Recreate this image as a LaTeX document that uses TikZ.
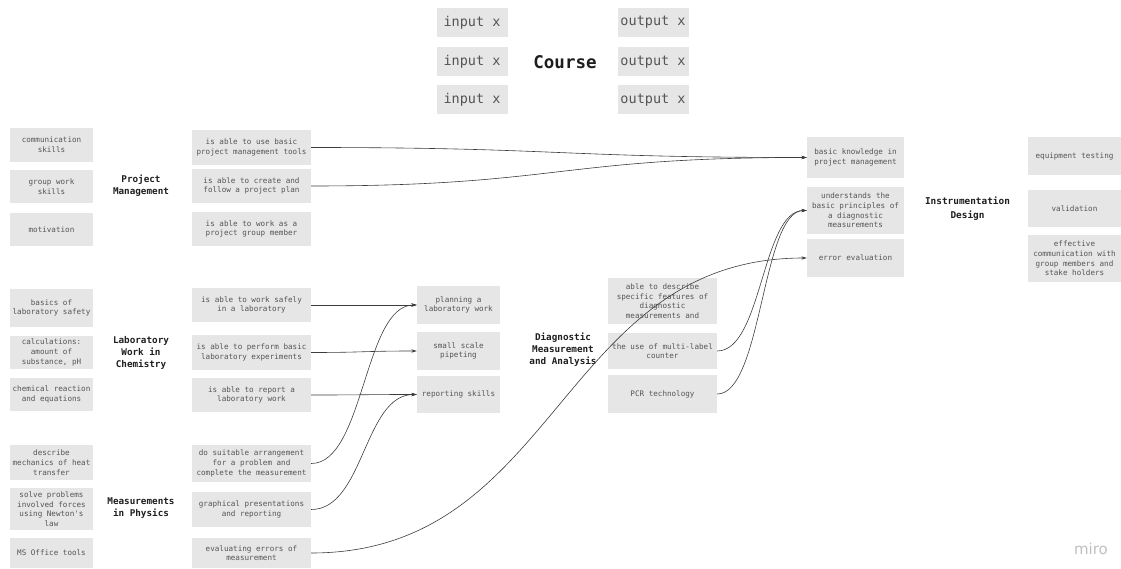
\documentclass[tikz,border=0pt]{standalone}
\usepackage{fontspec}
\setmonofont{DejaVu Sans Mono}
\newfontfamily\mirofont{DejaVu Sans}
\usetikzlibrary{arrows.meta}
\definecolor{boxfill}{HTML}{E6E6E6}
\definecolor{boxtext}{HTML}{555555}
\definecolor{labtext}{HTML}{1E1E1E}
\definecolor{linecol}{HTML}{3C3C3C}
\begin{document}
\begin{tikzpicture}[x=1pt,y=-1pt,
  bx/.style 2 args={fill=boxfill, draw=none, inner sep=0pt, align=center, text=boxtext,
    font=\ttfamily\fontsize{7.6}{9.7}\selectfont, minimum width=#1pt, minimum height=#2pt},
  iobox/.style={fill=boxfill, draw=none, inner sep=0pt, text=boxtext,
    font=\ttfamily\fontsize{13.5}{16}\selectfont, minimum width=71pt, minimum height=29pt},
  lab/.style={align=center, text=labtext, inner sep=0pt,
    font=\ttfamily\bfseries\fontsize{9.3}{12}\selectfont},
  conn/.style={draw=linecol, line width=0.6pt, -{Stealth[length=5.5pt,width=3.4pt]}}
]
\useasboundingbox (0,0) rectangle (1121,569);

% top
\node[iobox] (i1) at (472,22.5) {input x};
\node[iobox] (i2) at (472,62) {input x};
\node[iobox] (i3) at (472,100) {input x};
\node[iobox] (o1) at (653,22.5) {output x};
\node[iobox] (o2) at (653,62) {output x};
\node[iobox] (o3) at (653,100) {output x};
\node[lab, font=\ttfamily\bfseries\fontsize{17.5}{20}\selectfont] (course) at (565,62) {Course};

% left column
\node[bx={83}{34}] (c1) at (51.5,145) {communication\\skills};
\node[bx={83}{33}] (c2) at (51.5,186.5) {group work\\skills};
\node[bx={83}{33}] (c3) at (51.5,229.5) {motivation};
\node[bx={83}{38}] (c4) at (51.5,308) {basics of\\laboratory safety};
\node[bx={83}{33}] (c5) at (51.5,352.5) {calculations:\\amount of\\substance, pH};
\node[bx={83}{33}] (c6) at (51.5,394.5) {chemical reaction\\and equations};
\node[bx={83}{35}] (c7) at (51.5,462.5) {describe\\mechanics of heat\\transfer};
\node[bx={83}{42}] (c8) at (51.5,509) {solve problems\\involved forces\\using Newton's\\law};
\node[bx={83}{30}] (c9) at (51.5,553) {MS Office tools};

% section labels
\node[lab] (pm) at (141,186) {Project\\Management};
\node[lab] (lwc) at (141,353) {Laboratory\\Work in\\Chemistry};
\node[lab] (mip) at (141,508) {Measurements\\in Physics};
\node[lab] (dma) at (563,350) {Diagnostic\\Measurement\\and Analysis};
\node[lab, font=\ttfamily\bfseries\fontsize{9.4}{14}\selectfont] (ind) at (967.5,208.5) {Instrumentation\\Design};

% middle column
\node[bx={119}{35}] (m1) at (251.5,147.5) {is able to use basic\\project management tools};
\node[bx={119}{34}] (m2) at (251.5,186) {is able to create and\\follow a project plan};
\node[bx={119}{34}] (m3) at (251.5,229) {is able to work as a\\project group member};
\node[bx={119}{34}] (m4) at (251.5,305) {is able to work safely\\in a laboratory};
\node[bx={119}{35}] (m5) at (251.5,352.5) {is able to perform basic\\laboratory experiments};
\node[bx={119}{34}] (m6) at (251.5,395) {is able to report a\\laboratory work};
\node[bx={119}{37}] (m7) at (251.5,463.5) {do suitable arrangement\\for a problem and\\complete the measurement};
\node[bx={119}{35}] (m8) at (251.5,509.5) {graphical presentations\\and reporting};
\node[bx={119}{30}] (m9) at (251.5,553) {evaluating errors of\\measurement};

% planning column
\node[bx={83}{38}] (p1) at (458.5,305) {planning a\\laboratory work};
\node[bx={83}{38}] (p2) at (458.5,351) {small scale\\pipeting};
\node[bx={83}{37}] (p3) at (458.5,394.5) {reporting skills};

% diagnostic column
\node[bx={109}{46}] (d1) at (662.5,301) {able to describe\\specific features of\\diagnostic\\measurements and};
\node[bx={109}{36}] (d2) at (662.5,351) {the use of multi-label\\counter};
\node[bx={109}{38}] (d3) at (662.5,394) {PCR technology};

% instrumentation left
\node[bx={97}{41}] (n1) at (855.5,157.5) {basic knowledge in\\project management};
\node[bx={97}{47}] (n2) at (855.5,210.5) {understands the\\basic principles of\\a diagnostic\\measurements};
\node[bx={97}{38}] (n3) at (855.5,258) {error evaluation};

% right column
\node[bx={93}{38}] (r1) at (1074.5,156) {equipment testing};
\node[bx={93}{37}] (r2) at (1074.5,208.5) {validation};
\node[bx={93}{47}] (r3) at (1074.5,258.5) {effective\\communication with\\group members and\\stake holders};

% connectors
\draw[conn] (m1.east) .. controls +(248,0) and +(-248,0) .. (n1.west);
\draw[conn] (m2.east) .. controls +(248,0) and +(-248,0) .. (n1.west);
\draw[conn] (m4.east) -- (p1.west);
\draw[conn] (m5.east) .. controls +(53,0) and +(-53,0) .. (p2.west);
\draw[conn] (m6.east) .. controls +(53,0) and +(-53,0) .. (p3.west);
\draw[conn] (m7.east) .. controls +(53,0) and +(-53,0) .. (p1.west);
\draw[conn] (m8.east) .. controls +(53,0) and +(-53,0) .. (p3.west);
\draw[conn] (m9.east) .. controls +(248,0) and +(-248,0) .. (n3.west);
\draw[conn] (d2.east) .. controls +(45,0) and +(-45,0) .. (n2.west);
\draw[conn] (d3.east) .. controls +(45,0) and +(-45,0) .. (n2.west);

% watermark
\node[text=black!25, font=\mirofont\fontsize{15}{17}\selectfont, inner sep=0pt] (miro) at (1091,549) {miro};
\end{tikzpicture}
\end{document}
